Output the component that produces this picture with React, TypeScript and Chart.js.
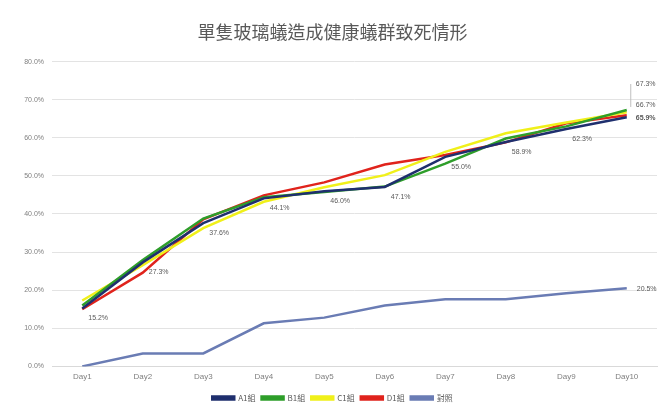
import React, { useEffect, useRef } from "react";
import { Chart, registerables } from "chart.js";

Chart.register(...registerables);

const categories = ["Day1", "Day2", "Day3", "Day4", "Day5", "Day6", "Day7", "Day8", "Day9", "Day10"];
const seriesNames = ["A1組", "B1組", "C1組", "D1組", "對照"];
const seriesA = [15.2, 27.3, 37.6, 44.1, 46.0, 47.1, 55.0, 58.9, 62.3, 65.4];
const seriesB = [16.0, 27.9, 38.8, 44.4, 45.8, 47.2, 53.2, 59.8, 63.0, 67.3];
const seriesC = [17.3, 26.6, 36.3, 43.2, 47.0, 50.2, 56.3, 61.2, 64.0, 66.7];
const seriesD = [15.0, 24.6, 38.6, 44.9, 48.3, 53.0, 55.5, 58.8, 63.8, 65.9];
const seriesE = [0.0, 3.4, 3.4, 11.3, 12.8, 16.0, 17.6, 17.6, 19.2, 20.5];
const yTicks = [0, 10, 20, 30, 40, 50, 60, 70, 80];
const colors = ["#1f2f6e", "#2e9e2a", "#f0f01a", "#e0231c", "#6a7cb4"];

const labelPlugin = {
  id: "valueLabels",
  afterDatasetsDraw(chart: any) {
    const ctx = chart.ctx;
    ctx.save();
    ctx.font = "7px 'Liberation Sans', Arial, sans-serif";
    ctx.fillStyle = "#595959";
    ctx.textBaseline = "middle";
    ctx.textAlign = "left";
    const m0 = chart.getDatasetMeta(0);
    for (let i = 0; i < m0.data.length - 1; i++) {
      const p = m0.data[i];
      ctx.fillText(seriesA[i].toFixed(1) + "%", p.x + 6, p.y + 10);
    }
    const offs = [[1, -26, false], [2, -7, false], [3, 3, true]];
    offs.forEach(([di, dy, bold]: any) => {
      const meta = chart.getDatasetMeta(di);
      const p = meta.data[meta.data.length - 1];
      const v = chart.data.datasets[di].data[meta.data.length - 1];
      ctx.font = (bold ? "bold " : "") + "7px 'Liberation Sans', Arial, sans-serif";
      ctx.fillText(v.toFixed(1) + "%", p.x + 9, p.y + dy);
    });
    const m1 = chart.getDatasetMeta(1);
    const pe = m1.data[m1.data.length - 1];
    ctx.strokeStyle = "#bfbfbf";
    ctx.lineWidth = 1;
    ctx.beginPath();
    ctx.moveTo(pe.x + 4, pe.y - 26);
    ctx.lineTo(pe.x + 4, pe.y - 3);
    ctx.stroke();
    const m4 = chart.getDatasetMeta(4);
    const p4 = m4.data[m4.data.length - 1];
    ctx.font = "7px 'Liberation Sans', Arial, sans-serif";
    ctx.fillText(seriesE[seriesE.length - 1].toFixed(1) + "%", p4.x + 10, p4.y + 1);
    ctx.restore();
  },
};

export default function App() {
  const ref = useRef<HTMLCanvasElement>(null);
  useEffect(() => {
    document.body.style.margin = "0";
    const all = [seriesA, seriesB, seriesC, seriesD, seriesE];
    const chart = new Chart(ref.current!, {
      type: "line",
      data: {
        labels: categories,
        datasets: all.map((d, i) => ({
          label: seriesNames[i],
          data: d,
          borderColor: colors[i],
          backgroundColor: colors[i],
          borderWidth: 2.5,
          pointRadius: 0,
          tension: 0,
          fill: false,
        })),
      },
      options: {
        responsive: false,
        animation: false,
        layout: { padding: { left: 8, right: 12, top: 0, bottom: 0 } },
        plugins: {
          title: {
            display: true,
            text: "單隻玻璃蟻造成健康蟻群致死情形",
            color: "#595959",
            font: { size: 18, family: "'Noto Sans CJK TC', sans-serif", weight: "normal" },
            padding: { top: 21, bottom: 19 },
          },
          legend: {
            position: "bottom",
            labels: {
              boxWidth: 22,
              boxHeight: 3,
              color: "#595959",
              font: { size: 8, family: "'Noto Sans CJK TC', sans-serif" },
              padding: 6,
            },
          },
          tooltip: { enabled: false },
        },
        scales: {
          x: {
            offset: true,
            grid: { display: false, drawTicks: false },
            border: { color: "#d9d9d9" },
            ticks: { color: "#7f7f7f", font: { size: 8, family: "'Liberation Sans', Arial, sans-serif" }, padding: 6 },
          },
          y: {
            min: 0,
            max: 80,
            afterFit: (s: any) => { s.width = 44; },
            afterBuildTicks: (s: any) => { s.ticks = yTicks.map((v) => ({ value: v })); },
            grid: { color: "#e3e3e3", drawTicks: false },
            border: { display: false },
            ticks: {
              color: "#7f7f7f",
              padding: 8,
              font: { size: 7, family: "'Liberation Sans', Arial, sans-serif" },
              callback: (v: any) => Number(v).toFixed(1) + "%",
            },
          },
        },
      },
      plugins: [labelPlugin],
    });
    return () => chart.destroy();
  }, []);
  return <canvas ref={ref} width={669} height={412} style={{ display: "block" }} />;
}
